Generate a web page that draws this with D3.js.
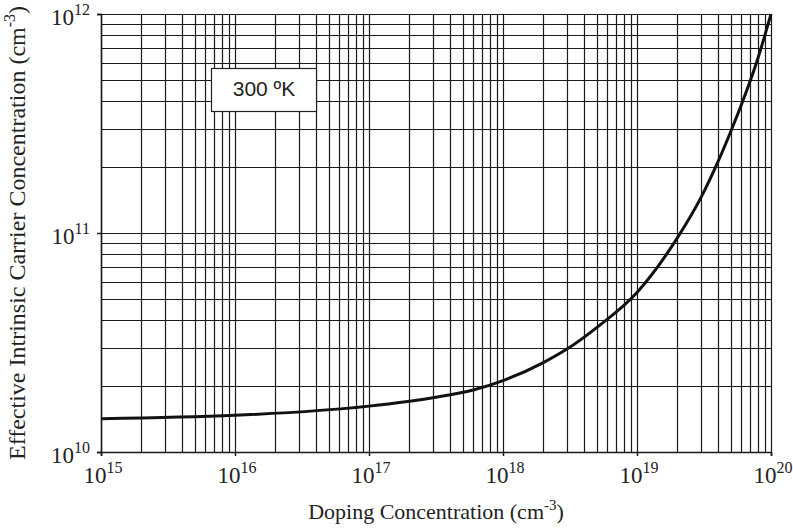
<!DOCTYPE html>
<html>
<head>
<meta charset="utf-8">
<script src="https://cdn.jsdelivr.net/npm/d3@7"></script>
<style>
    body { margin: 0; background: #fff; }
    svg { display: block; }
</style>
</head>
<body>
<svg width="793" height="532"></svg>
<script>
// doping concentration (cm^-3) and effective intrinsic carrier concentration (cm^-3)
const doping = [1e15, 1e16, 1e17, 3e17, 6e17, 1e18, 2e18, 3e18, 5e18, 1e19, 2e19, 3e19, 4e19, 5e19, 6e19, 8e19, 1e20];
const niEff = [1.42e10, 1.47e10, 1.62e10, 1.77e10, 1.92e10, 2.12e10, 2.56e10, 2.95e10, 3.7e10, 5.35e10, 9.5e10, 1.45e11, 2.1e11, 2.9e11, 3.84e11, 6.3e11, 1e12];

const xExponents = [15, 16, 17, 18, 19, 20];
const yExponents = [10, 11, 12];
const tempLabel = "300 ºK";

const svg = d3.select("svg");
const margin = { left: 101, right: 22, top: 14, bottom: 80 };
const width = +svg.attr("width");
const height = +svg.attr("height");

const x = d3.scaleLog()
    .domain([1e15, 1e20])
    .range([margin.left, width - margin.right]);
const y = d3.scaleLog()
    .domain([1e10, 1e12])
    .range([height - margin.bottom, margin.top]);

// minor + major grid values
const xGrid = [];
for (let e = 15; e < 20; e++) for (let m = 1; m < 10; m++) xGrid.push(m * Math.pow(10, e));
xGrid.push(1e20);
const yGrid = [];
for (let e = 10; e < 12; e++) for (let m = 1; m < 10; m++) yGrid.push(m * Math.pow(10, e));
yGrid.push(1e12);

const grid = svg.append("g").attr("stroke", "#1a1a1a").attr("stroke-width", 1.2);
grid.selectAll("line.v").data(xGrid).enter().append("line")
    .attr("class", "v")
    .attr("x1", d => Math.round(x(d)) + 0.5).attr("x2", d => Math.round(x(d)) + 0.5)
    .attr("y1", y(1e10)).attr("y2", y(1e12));
grid.selectAll("line.h").data(yGrid).enter().append("line")
    .attr("class", "h")
    .attr("y1", d => Math.round(y(d)) + 0.5).attr("y2", d => Math.round(y(d)) + 0.5)
    .attr("x1", x(1e15)).attr("x2", x(1e20));

// axes with only major ticks, labels drawn separately for superscripts
const xAxis = svg.append("g")
    .attr("transform", `translate(0,${y(1e10)})`)
    .call(d3.axisBottom(x).tickValues(xExponents.map(e => Math.pow(10, e))).tickSize(4).tickFormat(""));
const yAxis = svg.append("g")
    .attr("transform", `translate(${x(1e15)},0)`)
    .call(d3.axisLeft(y).tickValues(yExponents.map(e => Math.pow(10, e))).tickSize(4).tickFormat(""));
[xAxis, yAxis].forEach(a => {
    a.selectAll("path, line").attr("stroke", "#1a1a1a").attr("stroke-width", 1.5);
});

const serif = "'Liberation Serif', 'Times New Roman', serif";

// x tick labels
svg.append("g").selectAll("text")
    .data(xExponents).enter().append("text")
    .attr("x", d => x(Math.pow(10, d)) + 2)
    .attr("y", y(1e10) + 31)
    .attr("text-anchor", "middle")
    .attr("font-family", serif)
    .attr("font-size", 23)
    .attr("fill", "#222")
    .each(function(d) {
        const t = d3.select(this);
        t.append("tspan").text("10");
        t.append("tspan").attr("font-size", 16).attr("dy", -10).text(d);
    });

// y tick labels
svg.append("g").selectAll("text")
    .data(yExponents).enter().append("text")
    .attr("x", x(1e15) - 11)
    .attr("y", d => y(Math.pow(10, d)) + 11)
    .attr("text-anchor", "end")
    .attr("font-family", serif)
    .attr("font-size", 23)
    .attr("fill", "#222")
    .each(function(d) {
        const t = d3.select(this);
        t.append("tspan").text("10");
        t.append("tspan").attr("font-size", 16).attr("dy", -10).text(d);
    });

// curve
const line = d3.line()
    .x((d, i) => x(doping[i]))
    .y(d => y(d))
    .curve(d3.curveMonotoneX);
svg.append("path")
    .datum(niEff)
    .attr("fill", "none")
    .attr("stroke", "#111")
    .attr("stroke-width", 3)
    .attr("d", line);

// temperature box
const box = svg.append("g");
box.append("rect")
    .attr("x", 211.5).attr("y", 68.5)
    .attr("width", 105).attr("height", 43)
    .attr("fill", "#fff")
    .attr("stroke", "#222")
    .attr("stroke-width", 1.2);
box.append("text")
    .attr("x", 264).attr("y", 96)
    .attr("text-anchor", "middle")
    .attr("font-family", "'Liberation Sans', Arial, sans-serif")
    .attr("font-size", 21)
    .attr("fill", "#222")
    .text(tempLabel);

// axis titles
const xt = svg.append("text")
    .attr("x", (x(1e15) + x(1e20)) / 2)
    .attr("y", 519)
    .attr("text-anchor", "middle")
    .attr("font-family", serif)
    .attr("font-size", 22)
    .attr("fill", "#222");
xt.append("tspan").text("Doping Concentration (cm");
xt.append("tspan").attr("font-size", 15).attr("dy", -9).text("-3");
xt.append("tspan").attr("dy", 9).text(")");

const yt = svg.append("text")
    .attr("transform", `translate(25,${(y(1e10) + y(1e12)) / 2}) rotate(-90)`)
    .attr("text-anchor", "middle")
    .attr("font-family", serif)
    .attr("font-size", 24)
    .attr("fill", "#222");
yt.append("tspan").text("Effective Intrinsic Carrier Concentration (cm");
yt.append("tspan").attr("font-size", 16).attr("dy", -10).text("-3");
yt.append("tspan").attr("dy", 10).text(")");
</script>
</body>
</html>
